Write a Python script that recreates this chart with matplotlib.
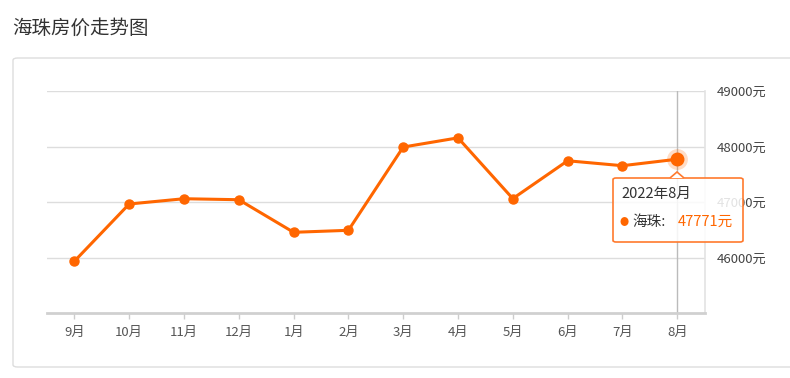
import matplotlib.pyplot as plt
from matplotlib.patches import FancyBboxPatch, Polygon

plt.rcParams['font.family'] = ['Noto Sans CJK SC', 'DejaVu Sans']

# monthly average price (yuan / m2)
months = ["9月", "10月", "11月", "12月", "1月", "2月", "3月", "4月", "5月", "6月", "7月", "8月"]
prices = [45933, 46964, 47059, 47041, 46454, 46490, 47990, 48156, 47061, 47743, 47654, 47771]
yticks = [46000, 47000, 48000, 49000]
district = "海珠"
hover_label = "2022年8月"

orange = "#ff6600"
x = list(range(len(months)))

fig = plt.figure(figsize=(7.9, 3.78), dpi=100)

# title and outer panel
fig.text(12 / 790, 1 - 28 / 378, "海珠房价走势图", fontsize=14, color="#333333",
         va="center", ha="left")
panel = FancyBboxPatch((13 / 790, 1 - 367 / 378), 790 / 790, 309 / 378,
                       boxstyle="round,pad=0,rounding_size=0.006",
                       transform=fig.transFigure, facecolor="white",
                       edgecolor="#dddddd", linewidth=1, zorder=-1)
fig.patches.append(panel)

ax = fig.add_axes([47 / 790, 1 - 313 / 378, (704.6 - 47) / 790, (313 - 91) / 378])
ax.set_facecolor("none")
ax.set_xlim(-0.5, len(months) - 0.5)
ax.set_ylim(45000, 49000)

ax.set_yticks(yticks)
ax.set_yticklabels([f"{v}元" for v in yticks])
ax.yaxis.tick_right()
ax.tick_params(axis="y", length=0, pad=9, labelsize=9.5, labelcolor="#444444")
ax.set_xticks(x)
ax.set_xticklabels(months)
ax.tick_params(axis="x", length=4, color="#cccccc", width=1, pad=5,
               labelsize=9.5, labelcolor="#555555")
ax.grid(axis="y", color="#dddddd", linewidth=1)
ax.set_axisbelow(True)

for s in ["top", "left"]:
    ax.spines[s].set_visible(False)
ax.spines["right"].set_color("#e3e3e3")
ax.spines["right"].set_linewidth(1.2)
ax.spines["bottom"].set_color("#d0d0d0")
ax.spines["bottom"].set_linewidth(2)

# hover cursor line
last = len(months) - 1
ax.axvline(last, color="#bbbbbb", linewidth=1, zorder=1)

ax.plot(x, prices, color=orange, linewidth=2.2, marker="o", markersize=6.5,
        zorder=3, clip_on=False)
ax.plot(last, prices[last], "o", color=orange, markersize=15, alpha=0.22,
        markeredgewidth=0, zorder=4, clip_on=False)
ax.plot(last, prices[last], "o", color=orange, markersize=9, zorder=5,
        clip_on=False)

# tooltip (slightly see-through, like the web original)
bx0, bx1 = 613 / 790, 743 / 790
by0, by1 = 1 - 242 / 378, 1 - 178 / 378
tip = FancyBboxPatch((bx0, by0), bx1 - bx0, by1 - by0,
                     boxstyle="round,pad=0,rounding_size=0.004",
                     transform=fig.transFigure, facecolor=(1, 1, 1, 0.85),
                     edgecolor="#ff7a2e", linewidth=1.2, zorder=10)
fig.patches.append(tip)
arrow = Polygon([(670 / 790, by1), (677 / 790, 1 - 172 / 378), (684 / 790, by1)],
                closed=False, transform=fig.transFigure, facecolor="white",
                edgecolor="#ff7a2e", linewidth=1.2, zorder=11)
fig.patches.append(arrow)
fig.text(621 / 790, 1 - 194 / 378, hover_label, fontsize=10.5, color="#333333",
         va="center", ha="left", zorder=12)
fig.text(620 / 790, 1 - 222 / 378, "●", fontsize=6.5, color=orange,
         va="center", ha="left", zorder=12)
fig.text(632 / 790, 1 - 222 / 378, f"{district}:", fontsize=10.5, color="#333333",
         va="center", ha="left", zorder=12)
fig.text(678 / 790, 1 - 222 / 378, f"{prices[last]}元", fontsize=10.5, color=orange,
         va="center", ha="left", zorder=12)

fig.savefig("out.png", dpi=100)
